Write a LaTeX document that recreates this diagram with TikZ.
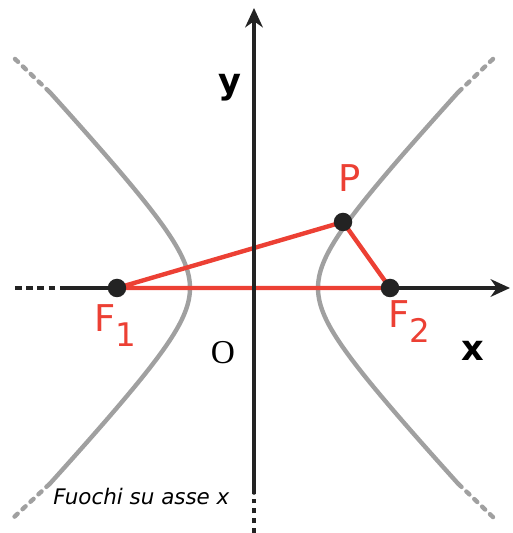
\documentclass[tikz,border=0pt]{standalone}
\usepackage{fontspec}
\setsansfont{DejaVu Sans}
\newfontfamily\tondo{Liberation Serif}
\usetikzlibrary{arrows.meta}
\definecolor{rosso}{RGB}{236,64,52}
\definecolor{grigio}{RGB}{160,160,160}
\definecolor{asse}{RGB}{35,35,35}
\tikzset{
  ramo/.style={grigio, line width=2.5pt},
  puntini/.style={grigio, line width=2.5pt, dash pattern=on 2.4pt off 3.8pt},
  assi/.style={asse, line width=2pt},
  punta/.style={-{Stealth[length=11pt, width=10pt, inset=3.5pt]}},
  fuoco/.style={circle, fill=asse, inner sep=0pt, minimum size=0.37cm},
  etich/.style={rosso, inner sep=0pt, font=\sffamily\fontsize{21}{24}\selectfont},
  nomeasse/.style={inner sep=0pt, font=\sffamily\bfseries\fontsize{20}{22}\selectfont}
}
\begin{document}
\begin{tikzpicture}[line cap=round, line join=round]
  \useasboundingbox (-5.08,-4.9) rectangle (5.16,5.76);
  % i rami dell'iperbole
  \draw[ramo] plot[domain=-2.028:2.028, samples=90, variable=\t] ({0.3+0.98*cosh(\t)}, {1.05*sinh(\t)});
  \draw[ramo] plot[domain=-2.028:2.028, samples=90, variable=\t] ({-0.3-0.98*cosh(\t)}, {1.05*sinh(\t)});
  \draw[puntini] (4.09,3.92) -- (4.8,4.6);   \draw[puntini] (4.09,-3.92) -- (4.82,-4.62);
  \draw[puntini] (-4.09,3.92) -- (-4.8,4.6); \draw[puntini] (-4.09,-3.92) -- (-4.84,-4.62);
  % asse x
  \draw[assi, line cap=butt, dash pattern=on 3.8pt off 2.6pt] (-4.78,0) -- (-3.82,0);
  \draw[assi, punta] (-3.82,0) -- (5.12,0);
  % il triangolo
  \coordinate (F1) at (-2.74,0);
  \coordinate (F2) at (2.72,0);
  \coordinate (P) at (1.78,1.32);
  \draw[rosso, line width=2.5pt] (F1) -- (P) -- (F2) -- cycle;
  % asse y
  \draw[assi, line cap=butt, dash pattern=on 2.8pt off 2.8pt] (0,-4.9) -- (0,-4.1);
  \draw[assi, punta] (0,-4.1) -- (0,5.6);
  \node[fuoco] (pF1) at (F1) {};
  \node[fuoco] (pF2) at (F2) {};
  \node[fuoco] (pP) at (P) {};
  % le scritte
  \node[etich, anchor=base west] (lF1) at (-3.2,-0.88) {F\raisebox{-8.5pt}{\fontsize{18.5}{20}\selectfont 1}};
  \node[etich, anchor=base west] (lF2) at (2.68,-0.8) {F\raisebox{-8.5pt}{\fontsize{18.5}{20}\selectfont 2}};
  \node[etich, anchor=base west] (lP) at (1.68,1.92) {P};
  \node[nomeasse] (ly) at (-0.48,4.0) {y};
  \node[nomeasse] (lx) at (4.38,-1.26) {x};
  \node[inner sep=0pt, font=\tondo\fontsize{19}{21}\selectfont] (lO) at (-0.62,-1.3) {O};
  \node[anchor=base west, inner sep=0pt, font=\sffamily\itshape\fontsize{12.2}{14}\selectfont] (nota) at (-4.02,-4.32) {Fuochi su asse x};
\end{tikzpicture}
\end{document}
